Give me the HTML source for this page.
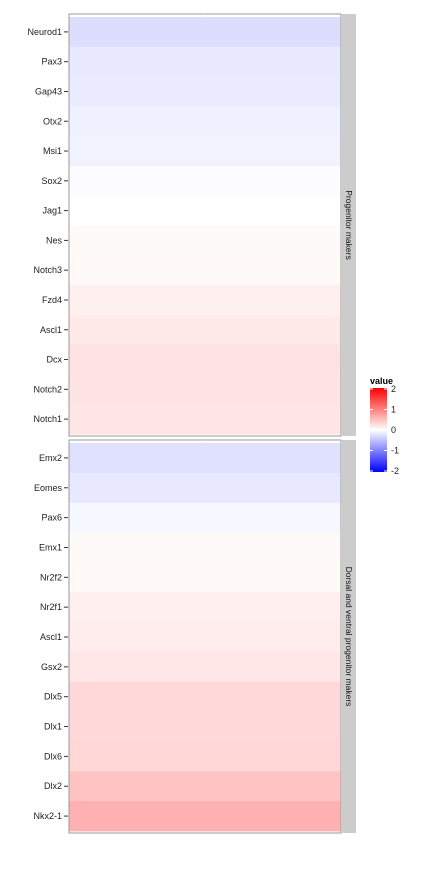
<!DOCTYPE html>
<html><head><meta charset="utf-8"><style>
body{margin:0;background:#fff;}
text{font-family:"Liberation Sans",sans-serif;}
</style></head><body>
<svg id="chart" width="432" height="864" xmlns="http://www.w3.org/2000/svg">
<defs><linearGradient id="lg" x1="0" y1="1" x2="0" y2="0">
<stop offset="0" stop-color="#0000ff"/><stop offset="0.5" stop-color="#ffffff"/><stop offset="1" stop-color="#ff0000"/></linearGradient></defs>
<g id="panels"></g>
<g>
<text x="370" y="384" font-size="9" font-weight="bold">value</text>
<rect x="370" y="388" width="17" height="84" fill="url(#lg)"/>
<g id="legticks"></g>
</g>
</svg>
<script>
const panel1Genes=["Neurod1","Pax3","Gap43","Otx2","Msi1","Sox2","Jag1","Nes","Notch3","Fzd4","Ascl1","Dcx","Notch2","Notch1"];
const panel1Values=[-0.27,-0.17,-0.16,-0.12,-0.1,-0.02,0.0,0.04,0.05,0.12,0.17,0.22,0.21,0.2];
const panel2Genes=["Emx2","Eomes","Pax6","Emx1","Nr2f2","Nr2f1","Ascl1","Gsx2","Dlx5","Dlx1","Dlx6","Dlx2","Nkx2-1"];
const panel2Values=[-0.24,-0.18,-0.06,0.04,0.05,0.13,0.14,0.19,0.3,0.3,0.31,0.47,0.62];
const stripLabels=["Progenitor makers","Dorsal and ventral progenitor makers"];
const legendTicks=[2,1,0,-1,-2];
const NS="http://www.w3.org/2000/svg";
function mk(t,a,p){const e=document.createElementNS(NS,t);for(const k in a)e.setAttribute(k,a[k]);p.appendChild(e);return e;}
function col(v){const k=Math.round(255*Math.min(1,Math.abs(v)/2));return v<0?`rgb(${255-k},${255-k},255)`:`rgb(255,${255-k},${255-k})`;}
const G=document.getElementById('panels');
const panels=[{genes:panel1Genes,vals:panel1Values,top:14,bot:436,t0:17,t1:434},{genes:panel2Genes,vals:panel2Values,top:440,bot:833,t0:443,t1:831}];
panels.forEach((p,pi)=>{
  const g=mk('g',{},G);
  
  
  const bg=mk('rect',{x:69,y:p.top,width:272,height:p.bot-p.top,fill:'#fff',stroke:'#999','stroke-width':1},g);
  
  
  const h=(p.t1-p.t0)/p.genes.length;
  const yS=i=>p.t0+i*h;
  p.genes.forEach((gn,i)=>{
    const r=mk('rect',{x:69.5,y:yS(i),width:271,height:h+0.4,fill:col(p.vals[i])},g);
    
    
    const cy=yS(i)+h/2;
    const tk=mk('line',{x1:64,x2:68,y1:cy,y2:cy,stroke:'#333','stroke-width':1},g);
    
    
    const tx=mk('text',{x:62,y:cy+3,'font-size':9,'text-anchor':'end',fill:'#222'},g);
    tx.textContent=gn;
    
    
  });
  const gl=mk('line',{x1:205,x2:205,y1:p.top,y2:p.t0,stroke:'#eee'},g);
  
  
  const s=mk('rect',{x:342,y:p.top,width:14,height:p.bot-p.top,fill:'#cccccc'},g);
  
  
  const cy=(p.top+p.bot)/2;
  const st=mk('text',{x:349,y:cy,'font-size':8.5,'text-anchor':'middle',transform:`rotate(90 349 ${cy}) translate(0 3)`,fill:'#111'},g);
  st.textContent=stripLabels[pi];
  
  
});
const LT=document.getElementById('legticks');
legendTicks.forEach(v=>{
  const y=430-v*20.5;
  const l=mk('line',{x1:370,x2:373,y1:y,y2:y,stroke:'#fff'},LT);
  
  
  const l2=mk('line',{x1:384,x2:387,y1:y,y2:y,stroke:'#fff'},LT);
  
  
  const t=mk('text',{x:391,y:y+3,'font-size':9,fill:'#222'},LT);
  t.textContent=v;
  
  
});
</script>
</body></html>
